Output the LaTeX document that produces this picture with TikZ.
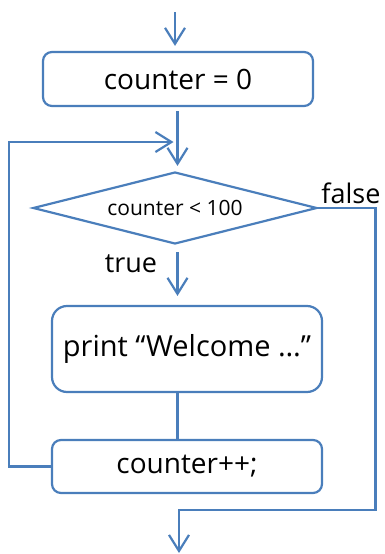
\documentclass[tikz,border=0pt]{standalone}
\usepackage{fontspec}
\setmainfont{Open Sans}
\usetikzlibrary{arrows.meta}
\usetikzlibrary{shapes.geometric}
\definecolor{flowblue}{HTML}{4A7EBB}
\tikzset{
    flow/.style={draw=flowblue,line width=2.2pt,-{Straight Barb[length=16pt,width=20pt,line width=2.2pt]}},
    link/.style={draw=flowblue,line width=2.2pt},
    stepbox/.style={draw=flowblue,line width=2.2pt,rectangle,rounded corners=#1,minimum width=270pt,inner sep=0pt},
    stepbox/.default=9pt,
}

\begin{document}
\begin{tikzpicture}[x=1pt,y=-1pt]
\useasboundingbox (0,0) rectangle (384,554);
\node[stepbox,minimum height=54pt,font=\fontsize{28}{30}\selectfont] (init) at (178,79) {counter = 0};
\node[draw=flowblue,line width=2.2pt,diamond,aspect=3.9,inner sep=0pt,minimum width=284pt,minimum height=72pt,font=\fontsize{21}{23}\selectfont] (cond) at (175,208) {counter < 100};
\node[stepbox=15pt,minimum height=86pt,font=\fontsize{29}{31}\selectfont] (body) at (187,349) {print “Welcome …”};
\node[stepbox,minimum height=53pt,font=\fontsize{28}{30}\selectfont] (incr) at (187,466.5) {counter++;};
\node[font=\fontsize{27}{29}\selectfont] (lbltrue) at (131,264) {true};
\node[font=\fontsize{27}{29}\selectfont] (lblfalse) at (351,193) {false};
\coordinate (start) at (175,12);
\coordinate (join) at (177.5,142);
\coordinate (corner) at (375.5,510);
\coordinate (stop) at (179,553);
%\draw[help lines] (0,0) grid[step=50] (384,554);
\draw[flow,shorten >=5pt] (start) -- (start |- init.north);
\draw[flow,shorten <=4pt,shorten >=5pt] (init.south -| join) -- (cond.north -| join);
\draw[flow,shorten >=4pt] (incr.west) -- ++(-42,0) |- (join);
\draw[flow,shorten <=7pt,shorten >=9pt] (cond.south -| join) -- (body.north -| join);
\draw[link] (body.south -| join) -- (incr.north -| join);
\draw[flow] (cond.east) -| (corner) -| (stop);
\end{tikzpicture}
\end{document}
